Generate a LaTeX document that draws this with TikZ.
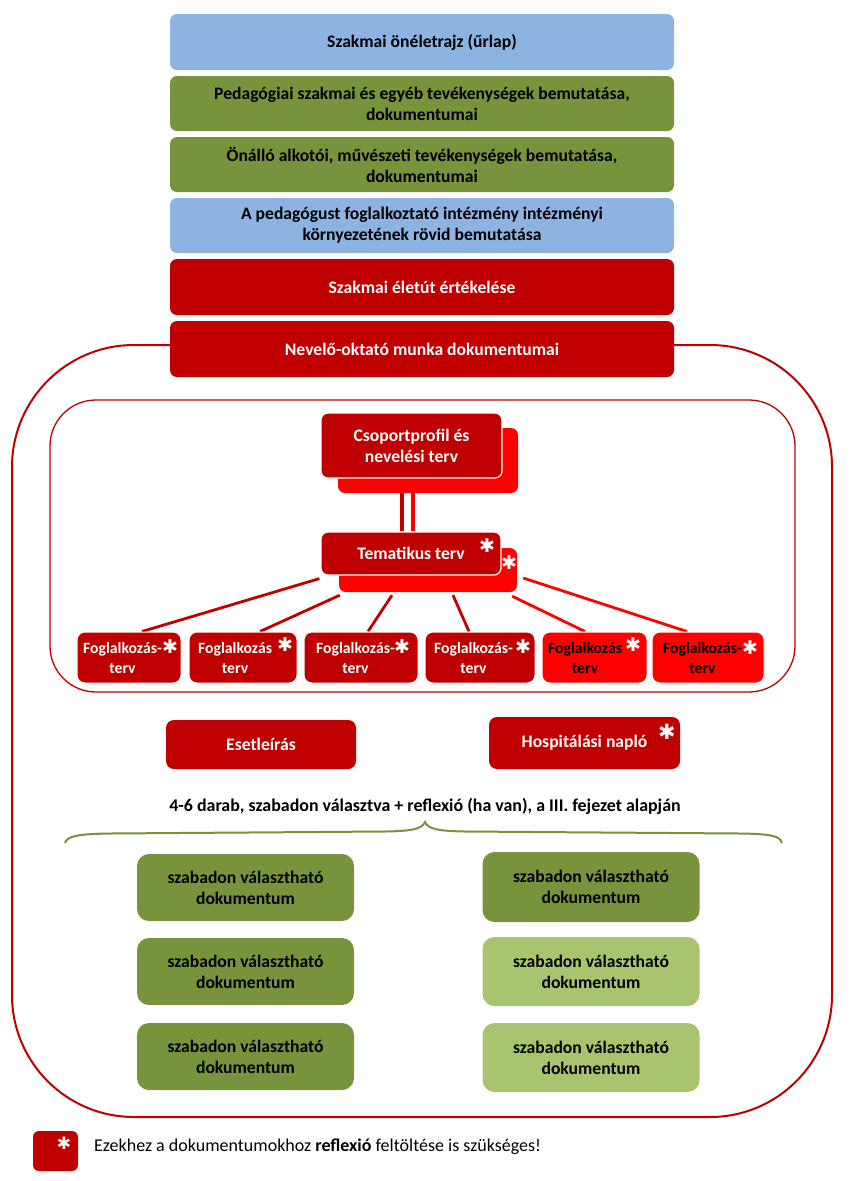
\documentclass[tikz,border=0pt]{standalone}
\usepackage{fontspec}
\setmainfont{Carlito}
\newfontfamily\dejavu{DejaVu Sans}
\usetikzlibrary{calc}
\definecolor{dred}{HTML}{C00000}
\definecolor{bred}{HTML}{FF0000}
\definecolor{lblue}{HTML}{8DB3E2}
\definecolor{dgreen}{HTML}{77933C}
\definecolor{lgreen}{HTML}{A9C46E}
\pgfdeclarelayer{bg}
\pgfsetlayers{bg,main}
\begin{document}
\begin{tikzpicture}[x=1pt,y=-1pt,
  txt/.style={font=\fontsize{17.6}{21}\selectfont\bfseries, align=center},
  mainbox/.style={txt, rounded corners=7pt, inner sep=0pt, minimum width=504pt, minimum height=56pt},
  bluebox/.style={mainbox, fill=lblue, text=black},
  greenbox/.style={mainbox, fill=dgreen, text=black},
  redbox/.style={mainbox, fill=dred, text=white},
  cfront/.style={txt, rounded corners=7pt, inner sep=0pt, fill=dred, text=white, draw=white, line width=1.2pt},
  cback/.style={rounded corners=7pt, inner sep=0pt, fill=bred},
  fbox/.style={rounded corners=8pt, inner sep=0pt, minimum height=51pt, draw=white, line width=1pt},
  ftxt/.style={font=\fontsize{15.7}{20}\selectfont\bfseries, align=center, inner sep=0pt, anchor=west},
  ast/.style={font=\dejavu\fontsize{19}{19}\selectfont, text=white, inner sep=0pt},
  docbox/.style={txt, rounded corners=12pt, inner sep=0pt, minimum width=217pt, text=black},
  conn/.style={line width=2.8pt},
]
\useasboundingbox (0,0) rectangle (853,1181);

% outer frames
\draw[dred, line width=2pt, rounded corners=122pt] (12,345) rectangle (832,1117);
\draw[dred, line width=1.3pt, rounded corners=46pt] (50,400) rectangle (795,692);

% top stack
\node[bluebox]  (b1) at (422,42)    {Szakmai önéletrajz (űrlap)};
\node[greenbox, minimum height=55pt] (b2) at (422,103.5) {Pedagógiai szakmai és egyéb tevékenységek bemutatása,\\dokumentumai};
\node[greenbox, minimum height=55pt] (b3) at (422,164.5) {Önálló alkotói, művészeti tevékenységek bemutatása,\\dokumentumai};
\node[bluebox, minimum height=55pt]  (b4) at (422,225.5) {A pedagógust foglalkoztató intézmény intézményi\\környezetének rövid bemutatása};
\node[redbox]   (b5) at (422,287)   {Szakmai életút értékelése};
\node[redbox]   (b6) at (422,349)   {Nevelő-oktató munka dokumentumai};

% Csoportprofil
\node[cback, minimum width=180pt, minimum height=65pt] (csB) at (428,460.5) {};
\node[cfront, minimum width=181pt, minimum height=65pt] (csF) at (411.5,445.5) {Csoportprofil és\\nevelési terv};

% Tematikus terv
\node[cback, minimum width=178pt, minimum height=44pt] (teB) at (428,570) {};
\node[ast] (teBa) at (509,563) {✱};
\node[cfront, minimum width=180pt, minimum height=43pt] (teF) at (411,553.5) {Tematikus terv};
\node[ast] (teFa) at (487,546) {✱};

% double connector
\begin{pgfonlayer}{bg}
\draw[dred, line width=3.5pt] ($(csF.south)+(-9.5,0)$) -- ($(teF.north)+(-9,0)$);
\draw[bred, line width=3.5pt] ($(csF.south)+(1.5,0)$) -- ($(teF.north)+(2,0)$);
\end{pgfonlayer}

% Foglalkozas boxes
\node[fbox, fill=dred, minimum width=104pt] (f1) at (129,657.5) {};
\node[fbox, fill=dred, minimum width=108pt] (f2) at (243,657.5) {};
\node[fbox, fill=dred, minimum width=114pt] (f3) at (361,657.5) {};
\node[fbox, fill=dred, minimum width=110pt] (f4) at (480,657.5) {};
\node[fbox, fill=bred, minimum width=105pt] (f5) at (594.5,657.5) {};
\node[fbox, fill=bred, minimum width=112pt] (f6) at (708,657.5) {};

\node[ftxt, text=white] (f1t) at (83,658)  {Foglalkozás-\\terv};
\node[ftxt, text=white] (f2t) at (198,658) {Foglalkozás\\terv};
\node[ftxt, text=white] (f3t) at (316,658) {Foglalkozás-\\terv};
\node[ftxt, text=white] (f4t) at (434,658) {Foglalkozás-\\terv};
\node[ftxt, text=black] (f5t) at (548,658) {Foglalkozás\\terv};
\node[ftxt, text=black] (f6t) at (663,658) {Foglalkozás-\\terv};

\node[ast] (f1a) at (170,647) {✱};
\node[ast] (f2a) at (285,645) {✱};
\node[ast] (f3a) at (402,647) {✱};
\node[ast] (f4a) at (523,647) {✱};
\node[ast] (f5a) at (633,645) {✱};
\node[ast] (f6a) at (750,648) {✱};

% fan connectors
\begin{pgfonlayer}{bg}
\draw[dred, conn] ($(teF.south west)+(-1,3)$) -- ($(f1.north)+(13,0)$);
\draw[dred, conn] ($(teB.south west)+(1,3)$)  -- ($(f2.north)+(17,0)$);
\draw[dred, conn] ($(teB.south)+(-36,3)$)     -- ($(f3.north)+(7,0)$);
\draw[dred, conn] ($(teB.south)+(25,3)$)      -- ($(f4.north)+(-11,0)$);
\draw[bred, conn] ($(teB.south east)+(-5,4)$) -- ($(f5.north)+(-9.5,0)$);
\draw[bred, conn] ($(teB.east)+(6,8)$)        -- ($(f6.north)+(-21,0)$);
\end{pgfonlayer}

% Esetleiras / Hospitalasi
\node[txt, rounded corners=8pt, fill=dred, text=white, minimum width=190pt, minimum height=49pt, inner sep=0pt] (ese) at (261,744.5) {Esetleírás};
\node[txt, rounded corners=8pt, fill=dred, text=white, minimum width=191pt, minimum height=52pt, inner sep=0pt] (hosp) at (584.5,743) {Hospitálási napló};
\node[ast, font=\dejavu\fontsize{21}{21}\selectfont] (hospa) at (667,732) {✱};

% caption
\node[txt, inner sep=0pt, font=\fontsize{17.9}{21}\selectfont\bfseries] (cap) at (425,806) {4-6 darab, szabadon választva + reflexió (ha van), a III. fejezet alapján};

% brace
\draw[dgreen, line width=2pt] (65,843) .. controls (67,836) and (78,834) .. (110,833.5)
  -- (385,831.5) .. controls (412,831) and (422,829) .. (425,822)
  .. controls (428,829) and (438,831) .. (465,831.5)
  -- (740,833.5) .. controls (772,834) and (780,836) .. (782,843);

% free documents
\node[docbox, fill=dgreen, minimum height=67pt] (d1) at (245.5,887.5)  {szabadon választható\\dokumentum};
\node[docbox, fill=dgreen, minimum height=67pt] (d2) at (245.5,971.5)  {szabadon választható\\dokumentum};
\node[docbox, fill=dgreen, minimum height=67pt] (d3) at (245.5,1056.5) {szabadon választható\\dokumentum};
\node[docbox, fill=dgreen, minimum height=70pt] (d4) at (591,887)   {szabadon választható\\dokumentum};
\node[docbox, fill=lgreen, minimum height=69pt] (d5) at (591,971.5) {szabadon választható\\dokumentum};
\node[docbox, fill=lgreen, minimum height=69pt] (d6) at (591,1057.5){szabadon választható\\dokumentum};

% legend
\node[rounded corners=6pt, fill=dred, minimum width=45pt, minimum height=40pt, inner sep=0pt] (leg) at (55.5,1151) {};
\node[ast, font=\dejavu\fontsize{17}{17}\selectfont] (lega) at (64,1143) {✱};
\node[anchor=west, inner sep=0pt, font=\fontsize{18}{21}\selectfont] (legt) at (94,1147) {Ezekhez a dokumentumokhoz \textbf{reflexió} feltöltése is szükséges!};
\end{tikzpicture}
\end{document}
